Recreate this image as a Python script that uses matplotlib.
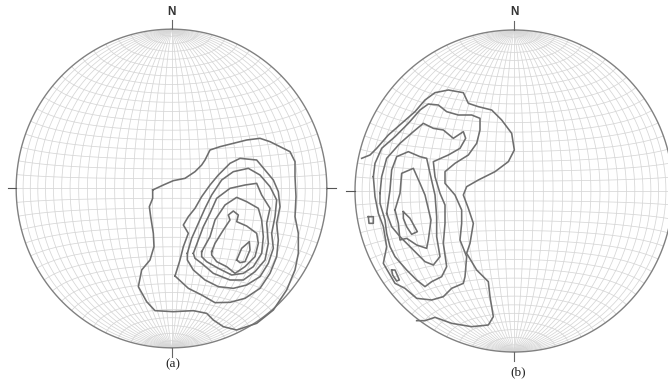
"""Two equal-area stereonets with pole density contours, panels (a) and (b)"""
import matplotlib
matplotlib.use('Agg')
import numpy as np
import matplotlib.pyplot as plt

plt.rcParams['font.family'] = ['Liberation Sans', 'DejaVu Sans']

# contour vertices (units of 1/3 pixel, y down)
A1_X = [68, 100, 130, 165, 195, 215, 225, 240, 270, 310, 350, 390, 420, 450, 480, 495, 495, 498, 495, 505, 505, 495, 470, 430, 380, 320, 280, 250, 230, 190, 130, 75, 50, 25, 35, 60, 72, 70, 62, 58, 68]
A1_Y = [210, 195, 182, 175, 155, 135, 120, 90, 80, 70, 60, 55, 65, 80, 95, 125, 170, 230, 290, 340, 400, 450, 510, 570, 610, 630, 620, 600, 580, 572, 575, 572, 545, 500, 450, 420, 380, 340, 290, 260, 235]
A2_X = [135, 150, 160, 175, 160, 175, 195, 215, 240, 265, 300, 330, 380, 405, 430, 445, 450, 440, 445, 440, 420, 390, 345, 300, 255, 215, 175]
A2_Y = [468, 420, 380, 340, 315, 290, 265, 230, 195, 165, 130, 115, 120, 150, 180, 215, 260, 310, 360, 410, 460, 505, 535, 547, 548, 525, 505]
A3_X = [172, 185, 205, 225, 245, 275, 310, 355, 390, 420, 440, 435, 425, 430, 415, 390, 350, 310, 265, 225, 190, 172]
A3_Y = [400, 355, 310, 265, 225, 180, 155, 145, 165, 200, 240, 290, 340, 385, 430, 470, 495, 505, 500, 480, 450, 420]
A4_X = [190, 205, 220, 240, 260, 300, 345, 380, 395, 420, 410, 415, 405, 375, 340, 300, 250, 215, 195]
A4_Y = [400, 360, 320, 280, 235, 205, 195, 190, 225, 265, 310, 370, 420, 455, 480, 480, 460, 430, 415]
A5_X = [215, 240, 255, 285, 320, 350, 385, 395, 400, 395, 370, 340, 305, 265, 230, 215]
A5_Y = [395, 350, 300, 255, 232, 245, 265, 300, 350, 400, 440, 460, 465, 445, 425, 410]
A6_X = [245, 255, 280, 300, 295, 310, 325, 320, 350, 380, 385, 375, 345, 315, 290, 260, 245]
A6_Y = [395, 370, 330, 300, 285, 273, 285, 305, 318, 340, 370, 410, 440, 460, 440, 425, 405]
A7_X = [320, 335, 358, 360, 345, 330]
A7_Y = [420, 385, 365, 390, 425, 428]

B1_X = [50, 75, 95, 130, 170, 210, 240, 270, 310, 355, 370, 400, 440, 470, 500, 508, 490, 450, 400, 365, 355, 370, 385, 375, 365, 395, 430, 435, 445, 430, 380, 320, 270, 240, 215]
B1_Y = [235, 225, 205, 165, 130, 95, 60, 38, 30, 38, 70, 80, 90, 120, 160, 210, 245, 275, 300, 320, 345, 385, 430, 490, 520, 570, 605, 650, 710, 735, 740, 730, 712, 722, 722]
B2_X = [85, 90, 110, 150, 190, 225, 250, 280, 305, 340, 380, 405, 405, 395, 370, 330, 300, 300, 330, 350, 350, 345, 365, 360, 355, 320, 295, 260, 215, 180, 150, 115, 125, 115, 100, 90]
B2_Y = [290, 250, 205, 170, 130, 90, 72, 75, 95, 105, 105, 115, 150, 190, 225, 250, 275, 310, 345, 390, 430, 480, 530, 590, 610, 625, 650, 660, 655, 625, 610, 550, 500, 440, 400, 350]
B3_X = [105, 110, 125, 165, 205, 235, 265, 295, 325, 355, 362, 345, 310, 265, 270, 285, 300, 300, 295, 305, 290, 260, 240, 215, 185, 150, 135, 125, 120, 105]
B3_Y = [340, 290, 235, 190, 155, 130, 145, 150, 175, 155, 175, 205, 225, 245, 290, 340, 375, 430, 490, 560, 590, 605, 620, 600, 570, 530, 500, 460, 420, 370]
B4_X = [125, 135, 140, 155, 190, 225, 245, 255, 270, 275, 275, 285, 265, 240, 205, 165, 140]
B4_Y = [400, 330, 270, 230, 215, 230, 235, 280, 345, 410, 470, 530, 555, 545, 510, 470, 440]
B5_X = [150, 165, 170, 205, 225, 240, 258, 250, 245, 215, 185, 165, 160]
B5_Y = [390, 340, 280, 265, 310, 345, 420, 480, 505, 495, 475, 480, 430]
B6_X = [175, 195, 217, 200, 185, 175]
B6_Y = [395, 415, 455, 463, 440, 415]
B7_X = [140, 150, 163, 155, 143]
B7_Y = [570, 570, 600, 603, 585]
B8_X = [70, 85, 85, 72]
B8_Y = [410, 410, 430, 430]

CONTOURS_A = [(A1_X, A1_Y), (A2_X, A2_Y), (A3_X, A3_Y), (A4_X, A4_Y), (A5_X, A5_Y), (A6_X, A6_Y), (A7_X, A7_Y)]
CONTOURS_B = [(B2_X, B2_Y), (B3_X, B3_Y), (B4_X, B4_Y), (B5_X, B5_Y), (B6_X, B6_Y), (B7_X, B7_Y), (B8_X, B8_Y)]

W, H = 668, 383
GRID_COLOR = '#d6d6d6'
LINE_COLOR = '#6e6e6e'
TICK_LEN = 26


def schmidt(lon, lat):
    """equatorial Lambert projection on the unit circle, degrees in"""
    lon, lat = np.radians(lon), np.radians(lat)
    k = 1 / np.sqrt(1 + np.cos(lat) * np.cos(lon))
    return k * np.cos(lat) * np.sin(lon), k * np.sin(lat)


def draw_net(ax, rx, ry):
    for lon in range(-85, 90, 5):
        lat = np.linspace(-90, 90, 180)
        x, y = schmidt(np.full_like(lat, lon), lat)
        ax.plot(x * rx, y * ry, color=GRID_COLOR, lw=0.55, zorder=1)
    for la in range(-85, 90, 5):
        lon = np.linspace(-90, 90, 120)
        x, y = schmidt(lon, np.full_like(lon, la))
        ax.plot(x * rx, y * ry, color=GRID_COLOR, lw=0.55, zorder=1)
    t = np.linspace(0, 2 * np.pi, 400)
    ax.plot(rx * np.cos(t), ry * np.sin(t), color='#808080', lw=1.0, zorder=2)
    ax.plot([0, 0], [ry, ry + TICK_LEN], color='#666666', lw=0.8)
    ax.plot([0, 0], [-ry, -ry - TICK_LEN], color='#666666', lw=0.8)
    ax.plot([-rx - TICK_LEN, -rx], [0, 0], color='#555555', lw=0.8)
    ax.plot([rx, rx + TICK_LEN], [0, 0], color='#555555', lw=0.8)


def make_axes(x0, x1, cx, cy):
    ax = fig.add_axes([x0 / W, 0, (x1 - x0) / W, 1])
    ax.set_xlim((x0 - cx) * 3, (x1 - cx) * 3)
    ax.set_ylim((cy - H) * 3, cy * 3)
    ax.axis('off')
    return ax


fig = plt.figure(figsize=(W / 100, H / 100), dpi=100, facecolor='white')

# panel (a)
cy_a = 188.5
ax_a = make_axes(0, 340, 171.5, cy_a)
draw_net(ax_a, 466, 478)
for xs, ys in CONTOURS_A:
    xs, ys = np.array(xs + xs[:1]) - 124.5, 205.5 - np.array(ys + ys[:1])
    ax_a.plot(xs, ys, color=LINE_COLOR, lw=1.15, zorder=3)
ax_a.text(0, (cy_a - 12) * 3, 'N', ha='center', va='center', fontsize=8.5, fontweight='bold', color='#333333')
ax_a.text(4, (cy_a - 364) * 3, '(a)', ha='center', va='center', fontsize=9.5, family='Liberation Serif', color='#222222')

# panel (b), the outer contour ends on the rim
cy_b = 191
ax_b = make_axes(340, 668, 514, cy_b)
draw_net(ax_b, 477, 483)
ax_b.plot(np.array(B1_X) - 507, 333 - np.array(B1_Y), color=LINE_COLOR, lw=1.15, zorder=3)
for xs, ys in CONTOURS_B:
    xs, ys = np.array(xs + xs[:1]) - 507, 333 - np.array(ys + ys[:1])
    ax_b.plot(xs, ys, color=LINE_COLOR, lw=1.15, zorder=3)
ax_b.text(0, (cy_b - 12) * 3, 'N', ha='center', va='center', fontsize=8.5, fontweight='bold', color='#333333')
ax_b.text(12, (cy_b - 372) * 3, '(b)', ha='center', va='center', fontsize=9.5, family='Liberation Serif', color='#222222')

fig.savefig('out.png', dpi=100, facecolor='white')
